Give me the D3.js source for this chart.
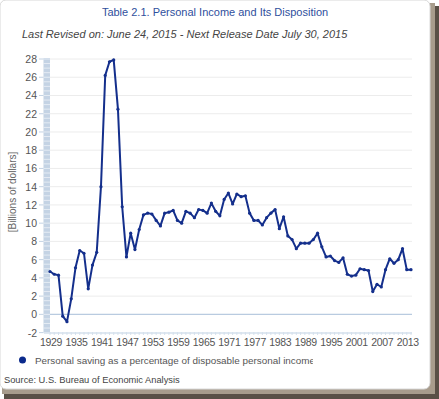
<!DOCTYPE html>
<html><head><meta charset="utf-8">
<script src="https://cdn.jsdelivr.net/npm/d3@7"></script>
<style>
html,body{margin:0;padding:0;background:#fff;}
svg{display:block;font-family:"Liberation Sans",Arial,sans-serif;}
</style></head>
<body>
<svg id="c" width="439" height="399"></svg>
<script>
const years = d3.range(1929, 2015);
const savingRate = [
 4.7, 4.4, 4.3, -0.2, -0.8, 1.7, 5.1, 7.0, 6.7, 2.8,
 5.4, 6.8, 14.0, 26.2, 27.7, 27.9, 22.5, 11.8, 6.3, 8.9,
 7.1, 9.3, 10.9, 11.1, 11.0, 10.3, 9.7, 11.1, 11.2, 11.4,
 10.3, 10.0, 11.3, 11.1, 10.6, 11.5, 11.4, 11.1, 12.2, 11.3,
 10.8, 12.6, 13.3, 12.1, 13.2, 12.9, 13.0, 11.1, 10.3, 10.3,
 9.8, 10.6, 11.1, 11.5, 9.4, 10.7, 8.6, 8.2, 7.2, 7.8,
 7.8, 7.8, 8.2, 8.9, 7.4, 6.3, 6.4, 5.9, 5.7, 6.2,
 4.4, 4.2, 4.3, 5.0, 4.9, 4.8, 2.5, 3.3, 3.0, 4.9,
 6.1, 5.6, 6.0, 7.2, 4.9, 4.9
];
const yTicks = [-2,0,2,4,6,8,10,12,14,16,18,20,22,24,26,28];
const xTickYears = [1929,1935,1941,1947,1953,1959,1965,1971,1977,1983,1989,1995,2001,2007,2013];
const titleText = "Table 2.1. Personal Income and Its Disposition";
const subtitleText = "Last Revised on: June 24, 2015 - Next Release Date July 30, 2015";
const yAxisTitle = "[Billions of dollars]";
const legendText = "Personal saving as a percentage of disposable personal income";
const sourceText = "Source: U.S. Bureau of Economic  Analysis";

const svg = d3.select("#c");

// frame / shadow
svg.append("rect").attr("x",0).attr("y",0).attr("width",439).attr("height",399).attr("fill","#fff");
svg.append("rect").attr("x",4).attr("y",6).attr("width",435).attr("height",393).attr("fill","#5a5046");
svg.append("rect").attr("x",2).attr("y",3).attr("width",433).attr("height",391).attr("fill","#a89c8c");
svg.append("rect").attr("x",0).attr("y",0).attr("width",430).attr("height",389).attr("rx",6)
  .attr("fill","#fff").attr("stroke","#d8d8d8").attr("stroke-width",1);

const x = d3.scaleLinear().domain([1929, 2014]).range([50, 411]);
const y = d3.scaleLinear().domain([-2, 28]).range([332.6, 59]);

// titles
svg.append("text").attr("x",215).attr("y",16).attr("text-anchor","middle")
  .attr("font-size",11).attr("fill","#2f4f9d").text(titleText);
svg.append("text").attr("x",22).attr("y",38).attr("font-size",11).attr("font-style","italic")
  .attr("fill","#444").text(subtitleText);

// gridlines
svg.append("g").selectAll("line").data(yTicks.filter(v=>v!==-2)).join("line")
  .attr("x1",44).attr("x2",412).attr("y1",d=>y(d)).attr("y2",d=>y(d))
  .attr("stroke",d=>d===0?"#b9cbe0":"#ececec").attr("stroke-width",d=>d===0?1.2:1);

// left band
const band = svg.append("g");
band.append("rect").attr("x",43.5).attr("y",y(28)-1).attr("width",6.5).attr("height",y(-2)-y(28)+1)
  .attr("fill","#c4d3e4");
band.selectAll("line").data(d3.range(-2, 28.01, 0.5)).join("line")
  .attr("x1",43.5).attr("x2",50).attr("y1",d=>y(d)).attr("y2",d=>y(d))
  .attr("stroke","#eef3f8").attr("stroke-width",0.8);

// y axis ticks + labels
const yAx = svg.append("g");
yAx.selectAll("line").data(yTicks).join("line")
  .attr("x1",39).attr("x2",43.5).attr("y1",d=>y(d)).attr("y2",d=>y(d)).attr("stroke","#c4d3e4");
yAx.selectAll("text").data(yTicks).join("text")
  .attr("x",37).attr("y",d=>y(d)+4).attr("text-anchor","end").attr("font-size",10.5)
  .attr("fill","#555").text(d=>d);

svg.append("text").attr("transform","translate(16,192) rotate(-90)").attr("text-anchor","middle")
  .attr("font-size",10).attr("fill","#666").text(yAxisTitle);

// x axis
const xa = svg.append("g");
xa.append("line").attr("x1",44).attr("x2",412).attr("y1",333).attr("y2",333).attr("stroke","#d5e0ec").attr("stroke-width",1.5);
xa.selectAll("line.m").data(years).join("line").attr("class","m")
  .attr("x1",d=>x(d)).attr("x2",d=>x(d)).attr("y1",332).attr("y2",335).attr("stroke","#d5e0ec");
xa.selectAll("text").data(xTickYears).join("text")
  .attr("x",d=>x(d)+1).attr("y",346).attr("text-anchor","middle").attr("font-size",10.5)
  .attr("letter-spacing",-0.3).attr("fill","#555").text(d=>d);

// line
const data = years.map((yr,i)=>({yr, v:savingRate[i]}));
svg.append("path").datum(data)
  .attr("d", d3.line().x(d=>x(d.yr)).y(d=>y(d.v)))
  .attr("fill","none").attr("stroke","#142f8c").attr("stroke-width",2).attr("stroke-linejoin","round");
svg.append("g").selectAll("circle").data(data).join("circle")
  .attr("cx",d=>x(d.yr)).attr("cy",d=>y(d.v)).attr("r",1.6).attr("fill","#142f8c");

// legend
svg.append("circle").attr("cx",22.5).attr("cy",360).attr("r",3.5).attr("fill","#0b2a8c");
svg.append("clipPath").attr("id","lc").append("rect").attr("x",30).attr("y",345).attr("width",283).attr("height",25);
svg.append("text").attr("x",35).attr("y",364).attr("font-size",9.9).attr("fill","#555")
  .attr("clip-path","url(#lc)").text(legendText);
svg.append("text").attr("x",4).attr("y",383).attr("font-size",9.3).attr("fill","#444").text(sourceText);
</script>
</body></html>
